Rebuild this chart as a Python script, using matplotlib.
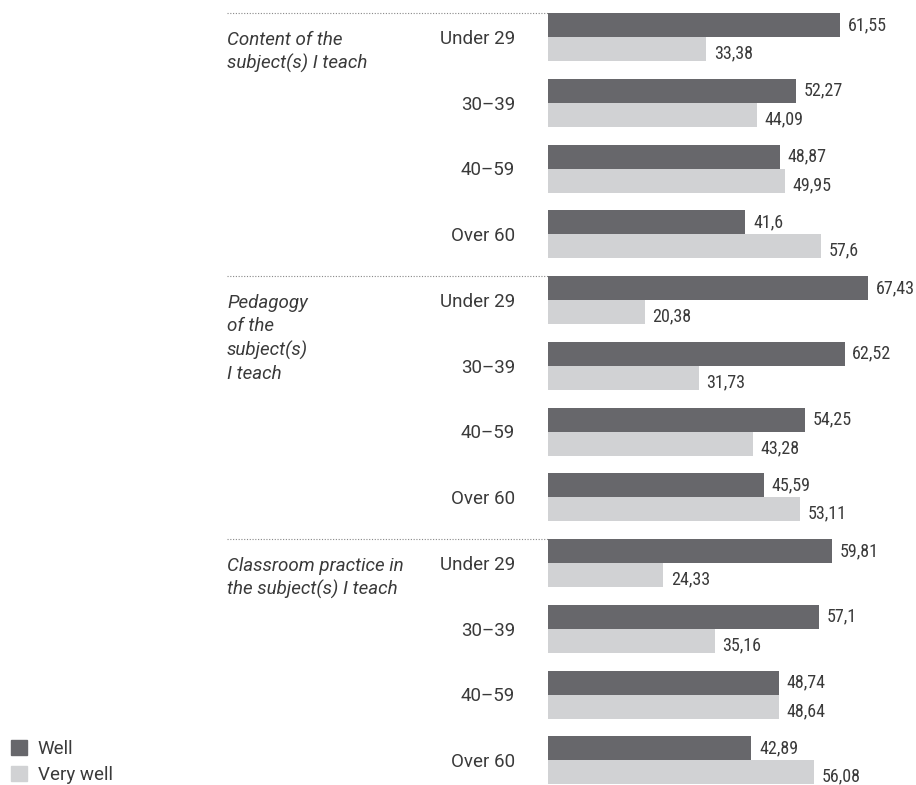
import numpy as np
import matplotlib
matplotlib.use("Agg")
from matplotlib import pyplot as plt
from matplotlib import transforms
from matplotlib.patches import Patch

groups = ["Content of the\nsubject(s) I teach",
          "Pedagogy\nof the\nsubject(s)\nI teach",
          "Classroom practice in\nthe subject(s) I teach"]
ages = ["Under 29", "30\u201339", "40\u201359", "Over 60"]
well = [61.55, 52.27, 48.87, 41.6,
        67.43, 62.52, 54.25, 45.59,
        59.81, 57.1, 48.74, 42.89]
very_well = [33.38, 44.09, 49.95, 57.6,
             20.38, 31.73, 43.28, 53.11,
             24.33, 35.16, 48.64, 56.08]

dark = "#67676b"
light = "#d1d2d4"
txt = "#3a3a3a"

plt.rcParams["font.family"] = ["Roboto", "DejaVu Sans"]
plt.rcParams["font.size"] = 13.5
cond = ["Roboto Condensed", "Roboto", "DejaVu Sans"]

fig = plt.figure(figsize=(9.16, 7.85), dpi=100)
W, H = 916, 785
ax = fig.add_axes([548 / W, 0, (905 - 548) / W, (785 - 13) / H])
scale = (840 - 548) / 61.55
ax.set_xlim(0, (905 - 548) / scale)
pitch = 65.75
bar_h = 24 / pitch
ax.set_ylim((785 - 13) / pitch, 0)

rows = np.arange(len(well))
ax.barh(rows + bar_h / 2, well, height=bar_h, color=dark)
ax.barh(rows + bar_h * 1.5, very_well, height=bar_h, color=light)

def fmt(v):
    return ("%g" % v).replace(".", ",")

for i in rows:
    ax.text(well[i] + 1.6, i + bar_h / 2, fmt(well[i]), va="center",
            ha="left", color=txt, family=cond, fontsize=13)
    ax.text(very_well[i] + 1.6, i + bar_h * 1.5 + 0.07, fmt(very_well[i]),
            va="center", ha="left", color=txt, family=cond, fontsize=13)

trans = transforms.blended_transform_factory(fig.transFigure, ax.transData)
for g, label in enumerate(groups):
    y0 = g * 4
    ax.plot([227 / W, 548 / W], [y0, y0], transform=trans, clip_on=False,
            color="#888888", lw=0.8, ls=(0, (1, 1.5)))
    ax.text(227 / W, y0 + 0.27, label, transform=trans, ha="left", va="top",
            style="italic", color=txt, linespacing=1.37)
    for a, age in enumerate(ages):
        ax.text(515 / W, y0 + a + bar_h + 0.03, age, transform=trans,
                ha="right", va="center", color=txt)

ax.axis("off")

handles = [Patch(color=dark, label="Well"), Patch(color=light, label="Very well")]
fig.legend(handles=handles, loc="lower left", bbox_to_anchor=(-0.006, -0.02),
           frameon=False, handlelength=0.85, handleheight=0.85,
           handletextpad=0.55, labelspacing=0.42, labelcolor=txt)

fig.savefig("out.png", dpi=100)
